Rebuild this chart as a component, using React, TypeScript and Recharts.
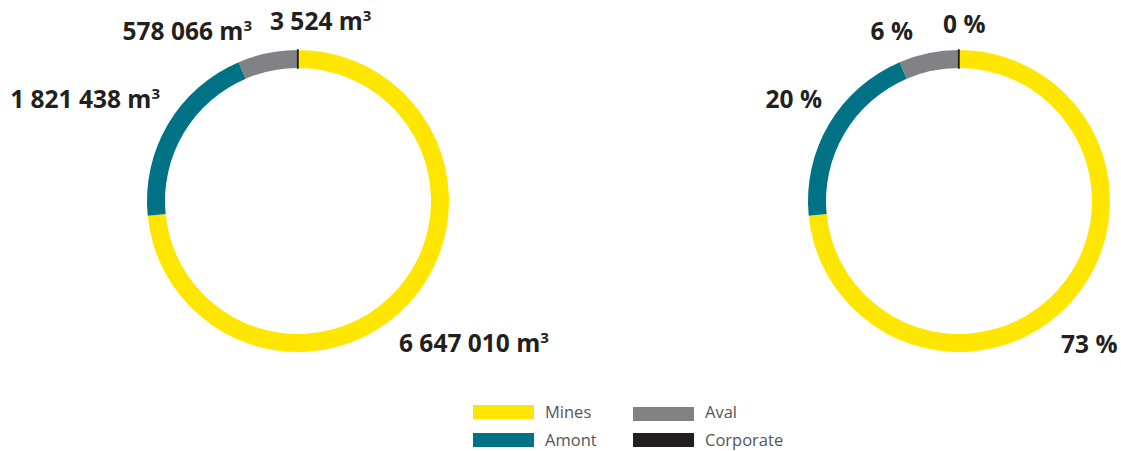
import React from "react";
import { PieChart, Pie, Cell, Legend } from "recharts";

const categories = ["Mines", "Amont", "Aval", "Corporate"];
const volumes = [6647010, 1821438, 578066, 3524];
const colors = ["#FFE600", "#007286", "#808285", "#231F20"];

// label placement offsets from each donut centre: [dx, dy, anchor]
const volumeLabelOffsets: [number, number, string][] = [
  [101, 151, "start"],
  [-138, -93, "end"],
  [-46, -161, "end"],
  [-28, -171, "start"],
];
const percentLabelOffsets: [number, number, string][] = [
  [102, 152, "start"],
  [-137, -93, "end"],
  [-46, -161, "end"],
  [-16, -168, "start"],
];

const data = categories.map((name, i) => ({ name, value: volumes[i] }));
const total = volumes.reduce((a, b) => a + b, 0);

const fmt = (n: number) => String(n).replace(/\B(?=(\d{3})+(?!\d))/g, " ");

const FONT = "'Open Sans', sans-serif";
const TEXT = "#231F20";

const volumeLabel = (props: any) => {
  const { cx, cy, index, value } = props;
  const [dx, dy, anchor] = volumeLabelOffsets[index];
  return (
    <text
      key={`vl-${index}`}
      x={cx + dx}
      y={cy + dy}
      textAnchor={anchor as any}
      fill={TEXT}
      fontFamily={FONT}
      fontWeight={700}
      fontSize={24.5}
    >
      {fmt(value)} m
      <tspan fontSize={15} dy={-9}>3</tspan>
    </text>
  );
};

const percentLabel = (props: any) => {
  const { cx, cy, index, value } = props;
  const [dx, dy, anchor] = percentLabelOffsets[index];
  return (
    <text
      key={`pl-${index}`}
      x={cx + dx}
      y={cy + dy}
      textAnchor={anchor as any}
      fill={TEXT}
      fontFamily={FONT}
      fontWeight={700}
      fontSize={24.5}
    >
      {Math.round((value / total) * 100)} %
    </text>
  );
};

const legendRows = [
  [0, 2],
  [1, 3],
];

const LegendContent = () => (
  <svg width={1121} height={60} style={{ display: "block" }}>
    {legendRows.map((row, r) =>
      row.map((idx, c) => (
        <g key={`${r}-${c}`}>
          <rect
            x={473 + c * 160}
            y={405 - 395 + r * 28 + (c === 1 && r === 0 ? 2 : 0)}
            width={61}
            height={14}
            fill={colors[idx]}
          />
          <text
            x={545 + c * 160}
            y={405 - 395 + r * 28 + 13}
            fill="#555559"
            fontFamily={FONT}
            fontSize={16.5}
          >
            {categories[idx]}
          </text>
        </g>
      ))
    )}
  </svg>
);

export default function App() {
  return (
    <div style={{ position: "fixed", left: 0, top: 0, width: 1121, height: 451, background: "#fff" }}>
      <PieChart width={1121} height={451} margin={{ top: 0, right: 0, bottom: 0, left: 0 }}>
        <Pie
          data={data}
          dataKey="value"
          nameKey="name"
          cx={298}
          cy={201}
          innerRadius={133}
          outerRadius={151}
          startAngle={90}
          endAngle={-270}
          label={volumeLabel}
          labelLine={false}
          isAnimationActive={false}
          stroke="none"
        >
          {data.map((d, i) => (
            <Cell
              key={d.name}
              fill={colors[i]}
              stroke={i === 3 ? colors[i] : "none"}
              strokeWidth={i === 3 ? 1.5 : 0}
            />
          ))}
        </Pie>
        <Pie
          data={data}
          dataKey="value"
          nameKey="name"
          cx={959}
          cy={201}
          innerRadius={133}
          outerRadius={151}
          startAngle={90}
          endAngle={-270}
          label={percentLabel}
          labelLine={false}
          isAnimationActive={false}
          stroke="none"
        >
          {data.map((d, i) => (
            <Cell
              key={d.name}
              fill={colors[i]}
              stroke={i === 3 ? colors[i] : "none"}
              strokeWidth={i === 3 ? 1.5 : 0}
            />
          ))}
        </Pie>
        <Legend
          verticalAlign="bottom"
          wrapperStyle={{ left: 0, top: 395, width: 1121, height: 60 }}
          content={() => <LegendContent />}
        />
      </PieChart>
    </div>
  );
}
